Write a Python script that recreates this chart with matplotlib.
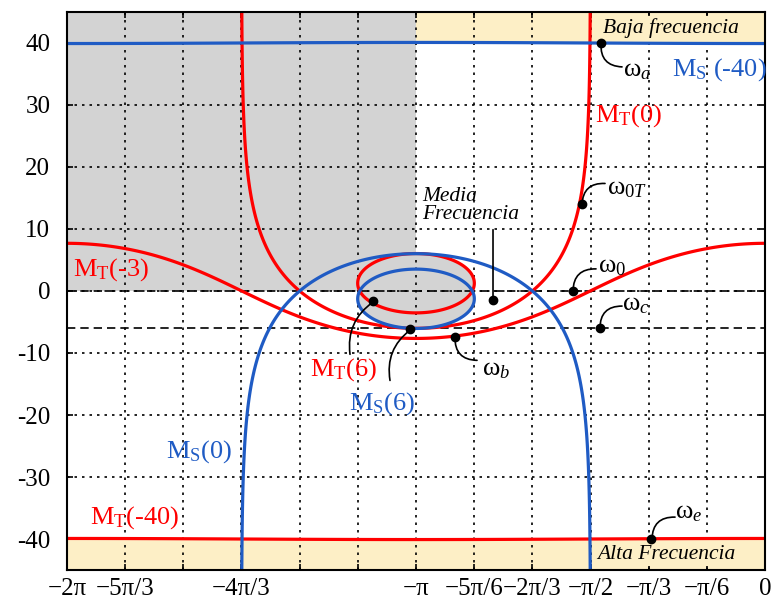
import numpy as np
import matplotlib.pyplot as plt

plt.rcParams['font.family'] = ['Liberation Serif', 'DejaVu Serif']
plt.rcParams['mathtext.fontset'] = 'custom'
plt.rcParams['mathtext.rm'] = 'Liberation Serif'
plt.rcParams['mathtext.it'] = 'Liberation Serif:italic'

pi = np.pi

# contour levels of |T| and |S| (dB)
mt_levels = [-40, -3, 0, 6]
ms_levels = [-40, 0, 6]

# axis ticks
x_ticks = np.arange(-12, 1) * pi / 6
x_labels = ['−2π', '−5π/3', '', '−4π/3', '', '', '−π', '−5π/6',
            '−2π/3', '−π/2', '−π/3', '−π/6', '0']
y_ticks = [-40, -30, -20, -10, 0, 10, 20, 30, 40]
y_labels = ['-40', '-30', '-20', '-10', '0', '10', '20', '30', '40']

# marked frequencies (phase in units of pi, magnitude dB)
w_names = ['a', '0T', '0', 'c', 'b', 'e']
w_phase = [-0.470, -0.524, -0.550, -0.473, -0.888, -0.327]
w_mag = [40, 14, 0, -6, -7.5, -40]

# other marked points: M_T(6), M_S(6), media frecuencia
p_phase = [-1.123, -1.017, -0.779]
p_mag = [-1.6, -6.2, -1.5]

BLUE = '#1f5bc4'
RED = '#ff0000'
GRAY = '#d3d3d3'
YELLOW = '#fdefc6'

# Nichols grid
phase = np.linspace(-2 * pi, 0, 1801)
mag = np.linspace(-45, 45, 1201)
P, M = np.meshgrid(phase, mag)
G = 10 ** (M / 20) * np.exp(1j * P)
with np.errstate(divide='ignore', invalid='ignore'):
    T_db = 20 * np.log10(np.abs(G / (1 + G)))
    S_db = 20 * np.log10(np.abs(1 / (1 + G)))
T_db = np.clip(np.nan_to_num(T_db, posinf=100), -200, 100)
S_db = np.clip(np.nan_to_num(S_db, posinf=100), -200, 100)

fig = plt.figure(figsize=(7.77, 5.99), dpi=100)
ax = fig.add_axes([0.0862, 0.0484, 0.9846 - 0.0862, 0.98 - 0.0484])

# shaded zones
ax.fill_between([-2 * pi, -pi], 0, 45, color=GRAY, lw=0, zorder=0.1)
ax.fill_between([-pi, 0], 40, 45, color=YELLOW, lw=0, zorder=0.1)
ax.fill_between([-2 * pi, 0], -45, -40, color=YELLOW, lw=0, zorder=0.1)
ax.contourf(P, M, np.maximum(T_db, S_db), levels=[6, 1000], colors=[GRAY], zorder=0.2)

# reference lines
ax.axhline(0, color='black', lw=1.2, ls=(0, (5, 3)), zorder=1.5)
ax.axhline(-6, color='black', lw=1.2, ls=(0, (5, 3)), zorder=1.5)

# M contours
ax.contour(P, M, T_db, levels=mt_levels, colors=RED, linewidths=2.3,
           linestyles='solid', zorder=2)
ax.contour(P, M, S_db, levels=ms_levels, colors=BLUE, linewidths=2.3,
           linestyles='solid', zorder=2)

# points
ax.plot(np.array(w_phase) * pi, w_mag, 'o', color='black', ms=6, zorder=4)
ax.plot(np.array(p_phase) * pi, p_mag, 'o', color='black', ms=6, zorder=4)


def px(x, y):
    # pixel position in the reference -> data coords
    return (-2 + (x - 67) / 349) * pi, (289 - y) / 6.17


def link(p0, p1, rad):
    ax.annotate('', xy=px(*p1), xytext=px(*p0),
                arrowprops=dict(arrowstyle='-', color='black', lw=1.2,
                                shrinkA=0, shrinkB=0,
                                connectionstyle='arc3,rad=%s' % rad), zorder=3)


link((601, 43), (622, 66), 0.5)
link((582, 203), (605, 182), -0.5)
link((573, 289), (596, 267), -0.5)
link((600, 326), (622, 304), -0.5)
link((455, 335), (477, 358), 0.5)
link((652, 536), (675, 514), -0.5)
link((373, 300), (350, 352), 0.3)
link((410, 328), (390, 378), 0.3)
link((493, 298), (493, 228), 0)

fs = 19
ax.text(*px(73, 274), r'M$_{\rm T}$(-3)', color=RED, fontsize=fs)
ax.text(*px(595, 120), r'M$_{\rm T}$(0)', color=RED, fontsize=fs)
ax.text(*px(672, 75), r'M$_{\rm S}$ (-40)', color=BLUE, fontsize=fs)
ax.text(*px(310, 373), r'M$_{\rm T}$(6)', color=RED, fontsize=fs)
ax.text(*px(349, 407), r'M$_{\rm S}$(6)', color=BLUE, fontsize=fs)
ax.text(*px(166, 455), r'M$_{\rm S}$(0)', color=BLUE, fontsize=fs)
ax.text(*px(90, 520), r'M$_{\rm T}$(-40)', color=RED, fontsize=fs)

w_text = [(623, 75), (607, 193), (598, 270), (622, 308), (482, 373), (675, 515)]
for name, (tx, ty) in zip(w_names, w_text):
    ax.text(*px(tx, ty), 'ω$_{%s}$' % name, fontsize=fs, zorder=5)

ifs = 15.5
box = dict(facecolor=YELLOW, edgecolor='none', pad=1.5)
ax.text(*px(603, 32), 'Baja frecuencia', fontsize=ifs, style='italic', bbox=box)
ax.text(*px(597, 556), 'Alta Frecuencia', fontsize=ifs, style='italic', bbox=box)
ax.text(*px(422, 199), 'Media', fontsize=ifs, style='italic')
ax.text(*px(422, 217), 'Frecuencia', fontsize=ifs, style='italic')

ax.set_xlim(-2 * pi, 0)
ax.set_ylim(-45, 45)
ax.set_xticks(x_ticks)
ax.set_xticklabels(x_labels)
ax.set_yticks(y_ticks)
ax.set_yticklabels(y_labels)
ax.tick_params(direction='in', length=4, width=1.2, labelsize=18,
               top=True, right=True)
ax.tick_params(axis='y', pad=12)
ax.tick_params(axis='x', pad=6)
ax.grid(True, color='black', lw=1.2, ls=(0, (1.5, 3)))
ax.set_axisbelow(True)
for s in ax.spines.values():
    s.set_linewidth(1.5)

fig.savefig('out.png', dpi=100)
